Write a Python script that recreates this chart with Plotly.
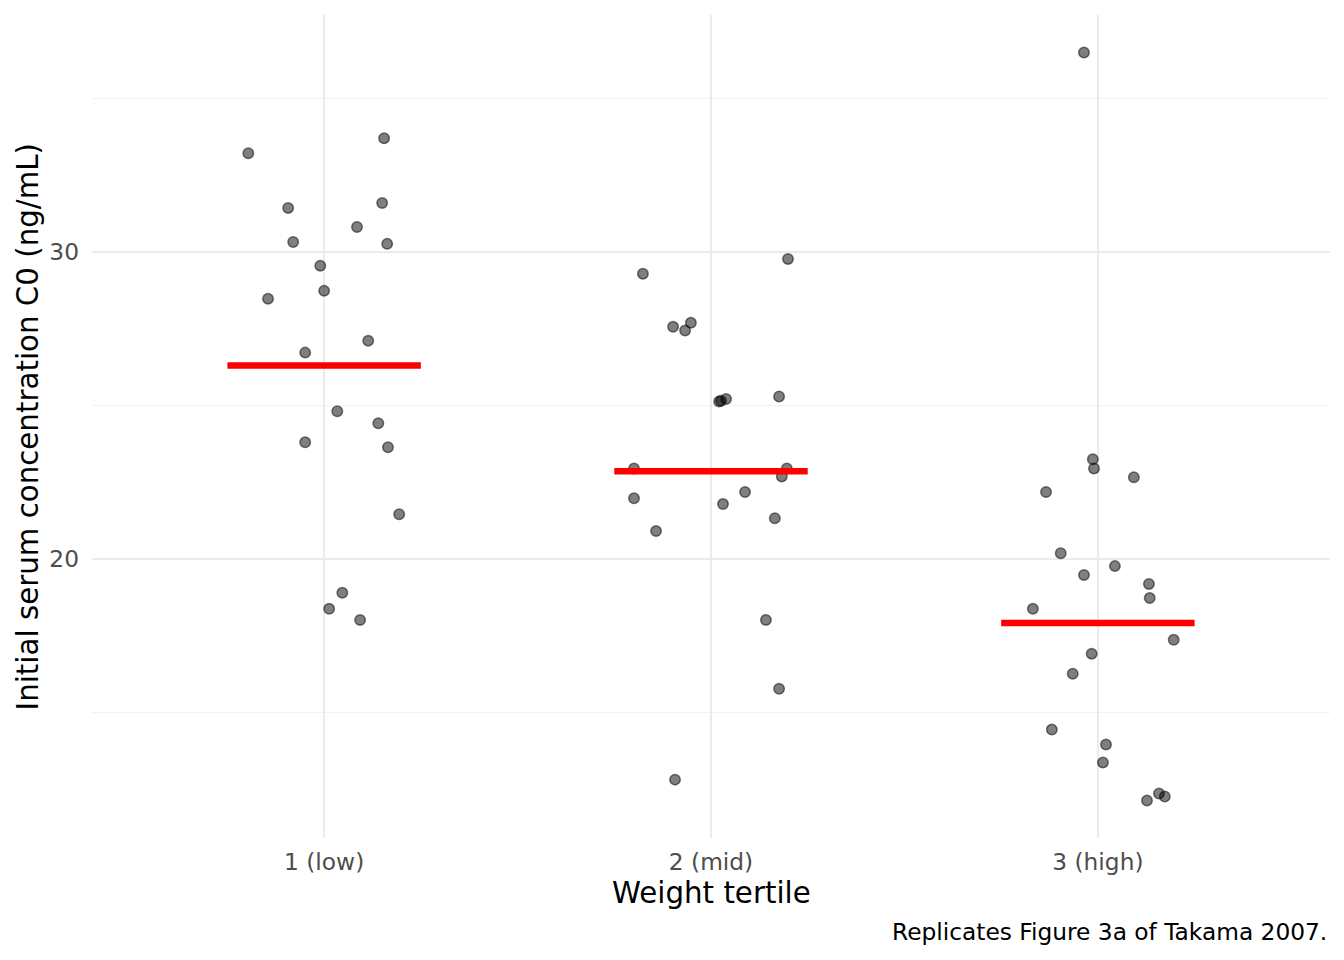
import plotly.graph_objects as go

categories = ["1 (low)", "2 (mid)", "3 (high)"]

# jittered x positions (category index + jitter) and concentrations
g1_x = [0.804, 1.155, 0.907, 1.150, 0.920, 1.085, 1.163, 0.990, 0.855, 1.000,
        1.114, 0.951, 1.034, 1.140, 0.951, 1.165, 1.194, 1.047, 1.013, 1.093]
g1_y = [33.21, 33.70, 31.43, 31.59, 30.32, 30.81, 30.26, 29.55, 28.47, 28.73,
        27.11, 26.72, 24.81, 24.42, 23.80, 23.64, 21.46, 18.90, 18.38, 18.02]

g2_x = [1.824, 2.199, 1.902, 1.948, 1.933, 2.021, 2.026, 2.039, 2.176, 1.801,
        2.196, 2.183, 1.801, 2.088, 2.031, 2.165, 1.858, 2.142, 2.176, 1.907]
g2_y = [29.29, 29.77, 27.56, 27.69, 27.44, 25.13, 25.15, 25.21, 25.29, 22.95,
        22.95, 22.69, 21.98, 22.18, 21.79, 21.33, 20.91, 18.02, 15.78, 12.82]

g3_x = [2.964, 2.987, 2.990, 3.093, 2.866, 2.904, 3.044, 2.964, 3.132, 3.134,
        2.832, 3.196, 2.984, 2.935, 2.881, 3.021, 3.013, 3.158, 3.173, 3.127]
g3_y = [36.49, 23.25, 22.95, 22.66, 22.18, 20.19, 19.77, 19.48, 19.19, 18.73,
        18.38, 17.37, 16.92, 16.27, 14.45, 13.96, 13.38, 12.37, 12.27, 12.14]

# summary line per tertile
summary = [26.30, 22.86, 17.92]

FONT = "DejaVu Sans"

fig = go.Figure()

all_x = g1_x + g2_x + g3_x
all_y = g1_y + g2_y + g3_y
fig.add_trace(go.Scatter(
    x=all_x, y=all_y, mode="markers",
    marker=dict(size=10.5, color="rgba(0,0,0,0.5)",
                line=dict(color="rgba(0,0,0,0.5)", width=1.5)),
    showlegend=False, hoverinfo="skip"))

for i, v in enumerate(summary):
    c = i + 1
    fig.add_trace(go.Scatter(
        x=[c - 0.25, c + 0.25], y=[v, v], mode="lines",
        line=dict(color="#ff0000", width=6.5),
        showlegend=False, hoverinfo="skip"))

fig.update_layout(
    width=1344, height=960,
    margin=dict(l=92, r=14, t=15, b=122),
    paper_bgcolor="white", plot_bgcolor="white",
    font=dict(family=FONT, color="black"),
    xaxis=dict(
        range=[0.4, 3.6], tickmode="array", tickvals=[1, 2, 3],
        ticktext=categories, showgrid=True, gridcolor="#ebebeb", gridwidth=2,
        zeroline=False, showline=False, ticks="", ticklabelstandoff=8,
        tickfont=dict(size=23.3, color="#4d4d4d", family=FONT),
    ),
    yaxis=dict(
        range=[10.92, 37.71], tickmode="array", tickvals=[20, 30],
        ticktext=["20", "30"], showgrid=True, gridcolor="#ebebeb", gridwidth=2,
        zeroline=False, showline=False, ticks="", ticklabelstandoff=12,
        minor=dict(tickvals=[15, 25, 35], showgrid=True, gridcolor="#f2f2f2",
                   gridwidth=1),
        tickfont=dict(size=23.3, color="#4d4d4d", family=FONT),
    ),
    annotations=[
        dict(text="Weight tertile", xref="paper", yref="paper",
             x=0.5, y=(960 - 893 - 122) / 823, xanchor="center", yanchor="middle",
             showarrow=False, font=dict(size=29.3, family=FONT, color="black")),
        dict(text="Initial serum concentration C0 (ng/mL)", xref="paper", yref="paper",
             x=(27 - 92) / 1238, y=0.5, xanchor="center", yanchor="middle",
             textangle=-90, showarrow=False,
             font=dict(size=29.3, family=FONT, color="black")),
        dict(text="Replicates Figure 3a of Takama 2007.", xref="paper", yref="paper",
             x=(1329 - 92) / 1238, y=(960 - 932 - 122) / 823, xanchor="right",
             yanchor="middle", showarrow=False,
             font=dict(size=23.3, family=FONT, color="black")),
    ],
)

fig.write_html("out.html")
